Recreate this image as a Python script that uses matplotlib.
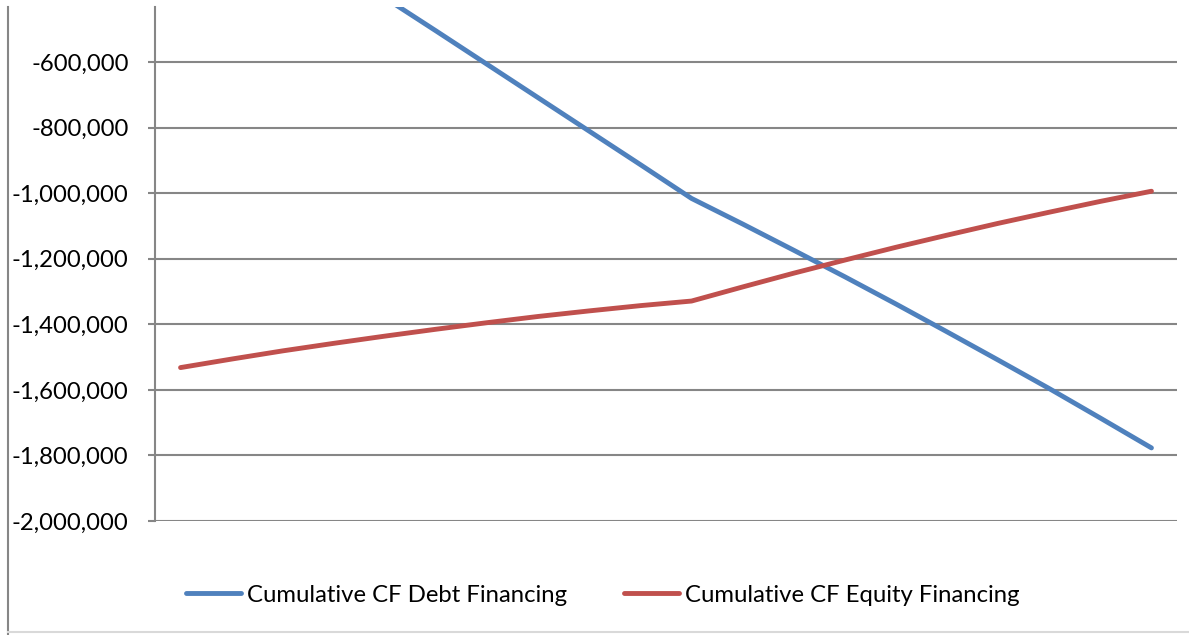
import numpy as np
import matplotlib
matplotlib.use("Agg")
import matplotlib.pyplot as plt
from matplotlib.lines import Line2D
from matplotlib.ticker import FuncFormatter


# ------------------------------------------------------------------------------
# values (thousands), 20 periods
periods = list(range(1, 21))
debt_cf = [0, -100, -200, -302, -404, -505, -607, -709, -811, -913,
           -1016, -1094, -1174, -1255, -1338, -1423, -1509, -1596, -1686, -1777]
equity_cf = [-1532, -1506, -1481, -1458, -1436, -1415, -1395, -1376, -1359, -1343,
             -1329, -1286, -1244, -1204, -1165, -1128, -1092, -1058, -1025, -994]
series_names = ["Cumulative CF Debt Financing", "Cumulative CF Equity Financing"]
y_ticks = [-2000000, -1800000, -1600000, -1400000, -1200000, -1000000, -800000, -600000]
# ------------------------------------------------------------------------------

W, H = 1189, 635
plt.rcParams["font.family"] = ["Lato", "DejaVu Sans"]

fig = plt.figure(figsize=(W / 100, H / 100), dpi=100)
ax = fig.add_axes([155 / W, (H - 521) / H, (1177 - 155) / W, (521 - 7) / H])

x = np.arange(len(periods))
ax.plot(x, np.array(debt_cf) * 1000, color="#4F81BD", lw=3.5,
        solid_capstyle="round", label=series_names[0])
ax.plot(x, np.array(equity_cf) * 1000, color="#C0504D", lw=3.5,
        solid_capstyle="round", label=series_names[1])

ax.set_xlim(-0.5, len(periods) - 0.5)
ax.set_ylim(-2000000, -432000)
ax.set_yticks(y_ticks)
ax.yaxis.set_major_formatter(FuncFormatter(lambda v, p: f"{v:,.0f}".replace("\u2212", "-")))
ax.set_xticks([])
ax.grid(axis="y", color="#868686", lw=1.5)
ax.set_axisbelow(True)

for s in ["top", "right", "bottom"]:
    ax.spines[s].set_visible(False)
ax.spines["left"].set_color("#868686")
ax.spines["left"].set_linewidth(1.5)
ax.tick_params(axis="y", length=5, width=1.5, color="#868686", pad=14,
               labelsize=17.2, labelcolor="black")

leg = ax.legend(loc="center", bbox_to_anchor=(603 / W, 40 / H),
                bbox_transform=fig.transFigure, ncol=2, frameon=False,
                fontsize=17.2, handlelength=2.3, handletextpad=0.25,
                columnspacing=2.4)

# chart area border (left and bottom edges visible in the crop)
fig.add_artist(Line2D([8 / W, 8 / W], [0, (H - 7) / H], transform=fig.transFigure,
                      color="#868686", lw=1.5))
fig.add_artist(Line2D([8 / W, 1], [3 / H, 3 / H], transform=fig.transFigure,
                      color="#D9D9D9", lw=1.5))

fig.savefig("out.png", dpi=100)
